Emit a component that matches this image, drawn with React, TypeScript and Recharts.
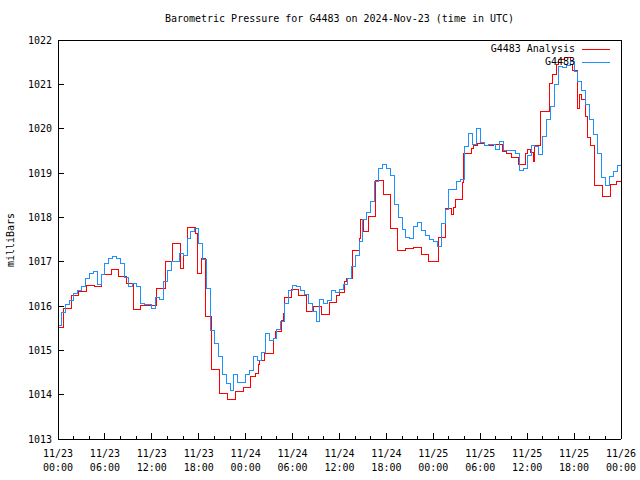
import { Legend, Line, LineChart, XAxis, YAxis } from "recharts";

const FONT = "'DejaVu Sans Mono', 'Liberation Mono', monospace";
const RED = "#ff0000";
const BLUE = "#1e90ff";

const TITLE = "Barometric Pressure for G4483 on 2024-Nov-23 (time in UTC)";
const seriesNames = ["G4483 Analysis", "G4483"];

// hours since 11/23 00:00 UTC
const xTickHours = [0, 2, 4, 6, 8, 10, 12, 14, 16, 18, 20, 22, 24, 26, 28, 30, 32, 34, 36, 38, 40, 42, 44, 46, 48, 50, 52, 54, 56, 58, 60, 62, 64, 66, 68, 70, 72];
const labelHours = [0, 6, 12, 18, 24, 30, 36, 42, 48, 54, 60, 66, 72];
const dayLabels = ["11/23", "11/23", "11/23", "11/23", "11/24", "11/24", "11/24", "11/24", "11/25", "11/25", "11/25", "11/25", "11/26"];
const timeLabels = ["00:00", "06:00", "12:00", "18:00", "00:00", "06:00", "12:00", "18:00", "00:00", "06:00", "12:00", "18:00", "00:00"];
const pressureTicks = [1013, 1014, 1015, 1016, 1017, 1018, 1019, 1020, 1021, 1022];

// G4483 station readings, one every 30 minutes (one row = 6 hours)
const stationReadings = [
  1015.55, 1015.85, 1016.03, 1016.13, 1016.29, 1016.36, 1016.45, 1016.62, 1016.74, 1016.77, 1016.48, 1016.7,
  1016.96, 1017.08, 1017.11, 1017.07, 1016.95, 1016.65, 1016.45, 1016.5, 1016.45, 1016.05, 1016.04, 1016.04,
  1015.95, 1016.2, 1016.15, 1016.55, 1016.81, 1017.0, 1017.0, 1017.19, 1017.15, 1017.53, 1017.68, 1017.75,
  1017.4, 1017.04, 1016.4, 1015.45, 1015.15, 1014.85, 1014.45, 1014.26, 1014.09, 1014.45, 1014.28, 1014.28,
  1014.45, 1014.55, 1014.85, 1014.78, 1014.95, 1015.38, 1015.22, 1015.27, 1015.46, 1015.66, 1016.05, 1016.35,
  1016.47, 1016.43, 1016.35, 1016.25, 1016.05, 1015.87, 1015.65, 1016.15, 1016.05, 1016.13, 1016.36, 1016.3,
  1016.38, 1016.49, 1016.62, 1016.9, 1017.15, 1017.45, 1017.95, 1018.1, 1018.35, 1018.8, 1019.1, 1019.2,
  1019.1, 1018.95, 1018.3, 1018.0, 1017.72, 1017.55, 1017.53, 1017.8, 1017.88, 1017.7, 1017.6, 1017.51,
  1017.45, 1017.35, 1017.85, 1018.17, 1018.62, 1018.62, 1018.8, 1018.85, 1019.6, 1019.9, 1019.65, 1020.0,
  1019.68, 1019.61, 1019.65, 1019.65, 1019.52, 1019.7, 1019.5, 1019.5, 1019.5, 1019.44, 1019.05, 1019.1,
  1019.4, 1019.63, 1019.6, 1019.41, 1019.82, 1020.2, 1020.5, 1021.0, 1021.41, 1021.38, 1021.42, 1021.51,
  1021.3, 1021.06, 1020.85, 1020.55, 1020.2, 1019.86, 1019.44, 1018.9, 1018.71, 1018.92, 1019.03, 1019.18,
  1019.1,
];

// analysis: hour at which each value takes over, and the value
const analysisHours = [
  0, 0.65, 1.7, 2.6, 3.65, 4.7, 5.6, 6.8, 7.7, 8.7, 9.65, 10.6,
  12.6, 13.7, 14.7, 15.7, 16.1, 16.6, 17.6, 17.8, 18.4, 18.85, 19.65, 20.65, 21.65, 22.7, 23.7,
  24.6, 25.3, 25.6, 25.8, 26.4, 27.6, 27.8, 28.6, 28.8, 29.0, 29.8, 30.7, 31.8, 32.7, 33.7, 34.7, 35.6,
  36.0, 36.6, 36.9, 37.6, 38.5, 38.65, 39.1, 39.7, 40.6, 41.6, 42.5, 43.4, 44.4, 45.4, 46.5, 47.4,
  48.6, 49.6, 50.3, 50.6, 50.8, 51.7, 51.9, 52.9, 53.1, 53.7, 54.6, 55.7, 56.9, 57.3, 58.0, 58.9, 59.8,
  60.0, 60.4, 60.75, 60.9, 61.65, 62.85, 63.3, 63.7, 64.0, 64.8, 65.55, 65.8, 66.5, 66.7, 66.9, 67.5,
  67.7, 68.1, 68.6, 69.6, 70.6, 71.4, 72,
];
const analysisValues = [
  1015.52, 1015.95, 1016.23, 1016.32, 1016.47, 1016.45, 1016.72, 1016.83, 1016.66, 1016.51, 1015.92, 1016.02,
  1016.4, 1017.0, 1017.41, 1016.85, 1017.13, 1017.78, 1017.64, 1016.74, 1017.07, 1015.76, 1014.56, 1014.03, 1013.9, 1014.07, 1014.17,
  1014.42, 1014.48, 1014.67, 1014.78, 1014.93, 1015.27, 1015.42, 1015.68, 1015.84, 1016.2, 1016.38, 1016.23, 1015.87, 1016.0, 1015.81, 1016.08, 1016.23,
  1016.31, 1016.55, 1016.62, 1017.25, 1017.53, 1017.94, 1017.69, 1018.03, 1018.82, 1018.52, 1017.74, 1017.25, 1017.3, 1017.32, 1017.17, 1017.01,
  1017.55, 1018.19, 1018.07, 1018.23, 1018.41, 1018.78, 1019.44, 1019.56, 1019.63, 1019.67, 1019.61, 1019.65, 1019.48, 1019.43, 1019.35, 1019.2, 1019.43,
  1019.53, 1019.46, 1019.27, 1019.63, 1020.38, 1021.02, 1021.23, 1021.44, 1021.55, 1021.61, 1021.44, 1021.31, 1020.46, 1020.76, 1020.66, 1020.27,
  1019.8, 1019.63, 1018.71, 1018.47, 1018.75, 1018.8, 1018.85,
];

const stationData = stationReadings.map((v, i) => ({ h: i / 2, v }));
const analysisData = analysisHours.map((h, i) => ({ h, v: analysisValues[i] }));

const textStyle = { fontFamily: FONT, fontSize: 10, fill: "#000" };

function BottomTick({ x, y, payload }: any) {
  const idx = labelHours.indexOf(payload.value);
  const major = idx >= 0;
  return (
    <g>
      <line x1={x} x2={x} y1={y} y2={y - (major ? 6 : 3)} stroke="#000" shapeRendering="crispEdges" />
      {major && (
        <text textAnchor="middle" {...textStyle}>
          <tspan x={x} y={y + 18}>{dayLabels[idx]}</tspan>
          <tspan x={x} y={y + 32}>{timeLabels[idx]}</tspan>
        </text>
      )}
    </g>
  );
}

function TopTick({ x, y, payload }: any) {
  const major = labelHours.includes(payload.value);
  return <line x1={x} x2={x} y1={y} y2={y + (major ? 6 : 3)} stroke="#000" shapeRendering="crispEdges" />;
}

function LeftTick({ x, y, payload }: any) {
  return (
    <g>
      <line x1={x + 6} x2={x + 12} y1={y} y2={y} stroke="#000" shapeRendering="crispEdges" />
      <text x={x} y={y} dy="0.35em" textAnchor="end" {...textStyle}>
        {payload.value}
      </text>
    </g>
  );
}

function RightTick({ x, y }: any) {
  return <line x1={x - 6} x2={x} y1={y} y2={y} stroke="#000" shapeRendering="crispEdges" />;
}

function KeyBox({ payload }: any) {
  const entries = [...(payload || [])].sort(
    (a: any, b: any) => seriesNames.indexOf(a.value) - seriesNames.indexOf(b.value)
  );
  return (
    <div style={{ fontFamily: FONT, fontSize: 10, color: "#000" }}>
      {entries.map((entry: any) => (
        <div
          key={entry.value}
          style={{ display: "flex", alignItems: "center", justifyContent: "flex-end", height: 13.5 }}
        >
          <span style={{ lineHeight: "10px" }}>{entry.value}</span>
          <svg width={35} height={4} style={{ display: "block" }}>
            <line x1={7} x2={35} y1={2} y2={2} stroke={entry.color} shapeRendering="crispEdges" />
          </svg>
        </div>
      ))}
    </div>
  );
}

const frame = { stroke: "#000", shapeRendering: "crispEdges" };

export default function App() {
  return (
    <div style={{ position: "absolute", left: 0, top: 0, width: 640, height: 480, background: "#fff" }}>
      <LineChart width={640} height={480} margin={{ top: 0, right: 0, bottom: 0, left: 0 }}>
        <XAxis
          dataKey="h"
          type="number"
          domain={[0, 72]}
          ticks={xTickHours}
          interval={0}
          height={41}
          tickSize={0}
          tickMargin={0}
          tickLine={false}
          axisLine={frame}
          tick={<BottomTick />}
        />
        <XAxis
          xAxisId="top"
          orientation="top"
          dataKey="h"
          type="number"
          domain={[0, 72]}
          ticks={xTickHours}
          interval={0}
          height={40}
          tickSize={0}
          tickMargin={0}
          tickLine={false}
          axisLine={frame}
          tick={<TopTick />}
        />
        <YAxis
          type="number"
          domain={[1013, 1022]}
          ticks={pressureTicks}
          interval={0}
          width={58}
          tickSize={0}
          tickMargin={6}
          tickLine={false}
          axisLine={frame}
          tick={<LeftTick />}
        />
        <YAxis
          yAxisId="right"
          orientation="right"
          type="number"
          domain={[1013, 1022]}
          ticks={pressureTicks}
          interval={0}
          width={19}
          tickSize={0}
          tickMargin={0}
          tickLine={false}
          axisLine={frame}
          tick={<RightTick />}
        />
        <Legend
          layout="vertical"
          align="center"
          verticalAlign="middle"
          content={<KeyBox />}
          wrapperStyle={{ top: 42, right: 30, left: "auto", bottom: "auto", width: "auto" }}
        />
        <Line
          data={analysisData}
          dataKey="v"
          name="G4483 Analysis"
          type="stepAfter"
          stroke={RED}
          strokeWidth={1}
          shapeRendering="crispEdges"
          dot={false}
          activeDot={false}
          isAnimationActive={false}
        />
        <Line
          data={stationData}
          dataKey="v"
          name="G4483"
          type="stepAfter"
          stroke={BLUE}
          strokeWidth={1}
          shapeRendering="crispEdges"
          dot={false}
          activeDot={false}
          isAnimationActive={false}
        />
      </LineChart>
      <svg
        width={640}
        height={480}
        style={{ position: "absolute", left: 0, top: 0, pointerEvents: "none" }}
      >
        <text x={339.5} y={22} textAnchor="middle" {...textStyle}>
          {TITLE}
        </text>
        <text
          x={10}
          y={240}
          textAnchor="middle"
          dominantBaseline="central"
          transform="rotate(-90 10 240)"
          {...textStyle}
        >
          milliBars
        </text>
      </svg>
    </div>
  );
}
